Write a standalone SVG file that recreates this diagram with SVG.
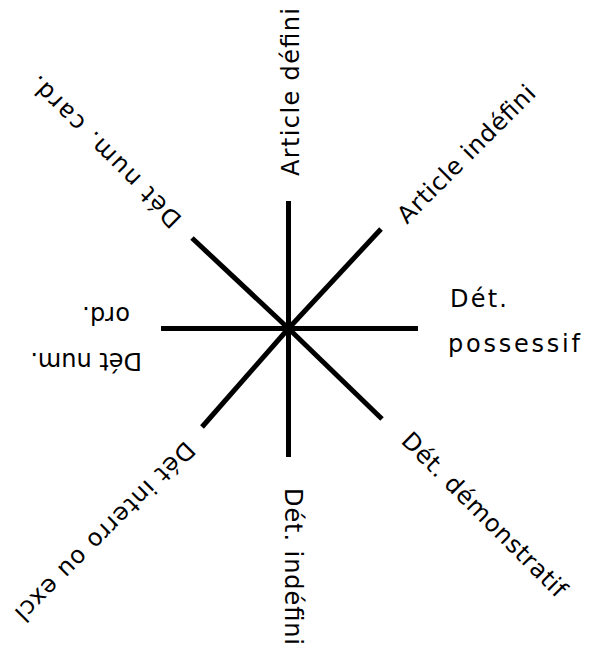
<svg xmlns="http://www.w3.org/2000/svg" width="595" height="653" viewBox="0 0 595 653">
<style>
.lbl{font-family:"DejaVu Sans","Liberation Sans",sans-serif;font-size:24px;fill:#000}
.ln{stroke:#000;stroke-width:5;stroke-linecap:butt;fill:none}
</style>
<rect width="595" height="653" fill="#fff"/>
<g id="connectors">
<line class="ln" x1="288.5" y1="328.5" x2="288.5" y2="201"/>
<line class="ln" x1="288.5" y1="328.5" x2="288.5" y2="457"/>
<line class="ln" x1="288.5" y1="328.5" x2="418" y2="328.5"/>
<line class="ln" x1="288.5" y1="328.5" x2="161" y2="328.5"/>
<line class="ln" x1="288.5" y1="328.5" x2="381" y2="229"/>
<line class="ln" x1="288.5" y1="328.5" x2="382" y2="419"/>
<line class="ln" x1="288.5" y1="328.5" x2="202" y2="427"/>
<line class="ln" x1="288.5" y1="328.5" x2="192" y2="238"/>
</g>
<g id="article-defini">
<text class="lbl" transform="translate(299,176) rotate(-90)" textLength="168">Article défini</text>
</g>
<g id="article-indefini">
<text class="lbl" transform="translate(407,225) rotate(-45)" textLength="184">Article indéfini</text>
</g>
<g id="det-possessif">
<text class="lbl" x="450" y="307" textLength="57">Dét.</text>
<text class="lbl" x="448" y="352" textLength="132">possessif</text>
</g>
<g id="det-demonstratif">
<text class="lbl" transform="translate(400,442) rotate(45)" textLength="222">Dét. démonstratif</text>
</g>
<g id="det-indefini">
<text class="lbl" transform="translate(285,488) rotate(90)" textLength="157">Dét. indéfini</text>
</g>
<g id="det-interro">
<text class="lbl" transform="translate(185,440) rotate(135)" textLength="243">Dét interro ou excl</text>
</g>
<g id="det-num-ord">
<text class="lbl" x="142" y="353" transform="rotate(180 142 353)" font-size="21">Dét num.</text>
<text class="lbl" transform="translate(130,307) rotate(180)" textLength="48">ord.</text>
</g>
<g id="det-num-card">
<text class="lbl" transform="translate(183,218) rotate(225)" textLength="204">Dét num. card.</text>
</g>
</svg>
